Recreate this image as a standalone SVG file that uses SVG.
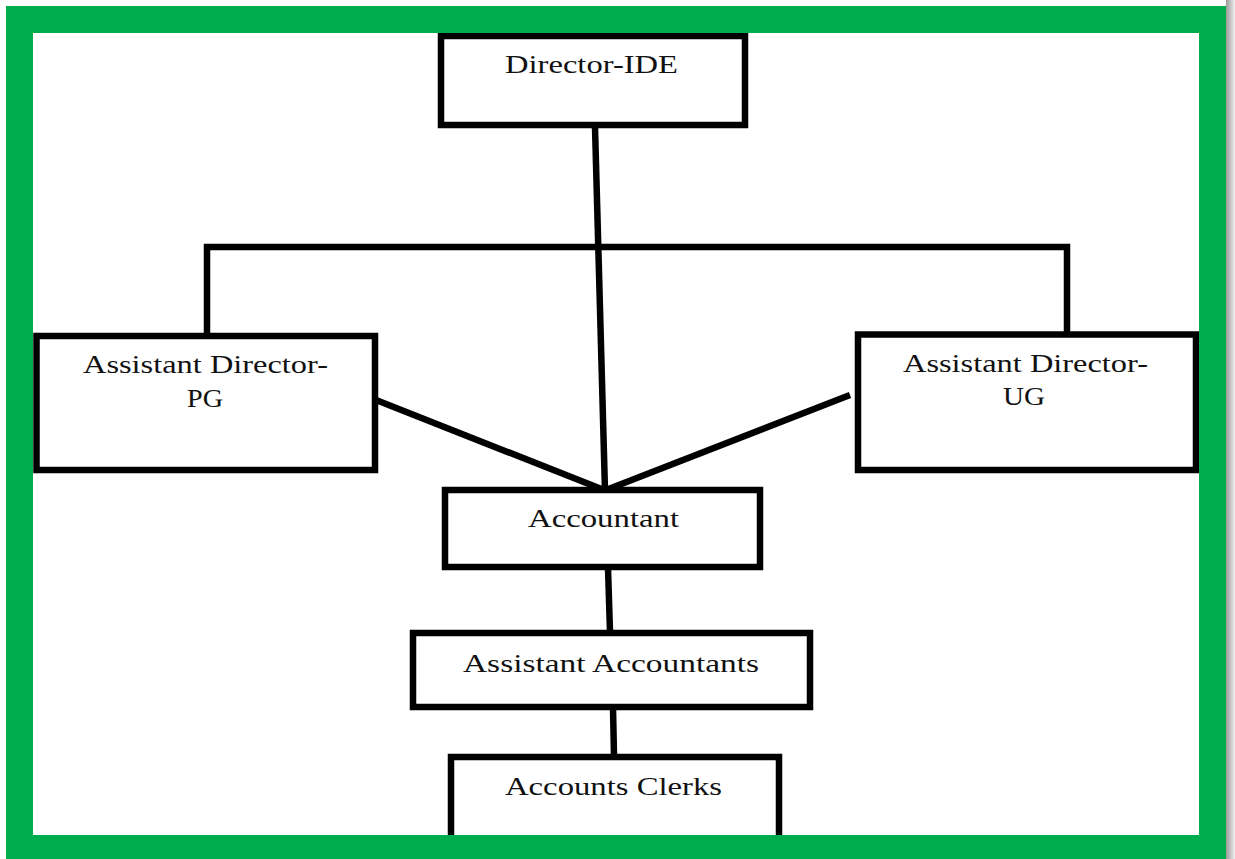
<svg xmlns="http://www.w3.org/2000/svg" width="1235" height="859" viewBox="0 0 1235 859">
  <defs>
    <linearGradient id="shade" x1="0" y1="0" x2="1" y2="0">
      <stop offset="0" stop-color="#9a9a9a"/>
      <stop offset="1" stop-color="#f0f0f0"/>
    </linearGradient>
  </defs>
  <style>
    .box { fill: #ffffff; stroke: #000000; stroke-width: 6.5; }
    .wire { fill: none; stroke: #000000; stroke-width: 6.5; stroke-linecap: butt; stroke-linejoin: miter; }
    .label { font-family: "Liberation Serif", "Times New Roman", serif; font-size: 25px; fill: #111111; }
  </style>

  <!-- page background -->
  <rect x="0" y="0" width="1235" height="859" fill="#ffffff"/>

  <!-- connectors -->
  <g id="connectors">
    <line class="wire" x1="595" y1="127" x2="605" y2="491"/>
    <polyline class="wire" points="207,334 207,247 1067,247 1067,332"/>
    <line class="wire" x1="376" y1="400" x2="604" y2="490"/>
    <line class="wire" x1="850" y1="395" x2="606" y2="490"/>
    <line class="wire" x1="608" y1="568" x2="610" y2="632"/>
    <line class="wire" x1="613" y1="708" x2="614" y2="756"/>
  </g>

  <g id="director-ide">
    <rect class="box" x="441" y="36" width="304" height="89"/>
    <text class="label" x="505" y="73" textLength="173" lengthAdjust="spacingAndGlyphs">Director-IDE</text>
  </g>

  <g id="assistant-director-pg">
    <rect class="box" x="36.5" y="336" width="338.5" height="134"/>
    <text class="label" x="83" y="373" textLength="245" lengthAdjust="spacingAndGlyphs">Assistant Director-</text>
    <text class="label" x="187" y="407" textLength="36" lengthAdjust="spacingAndGlyphs">PG</text>
  </g>

  <g id="assistant-director-ug">
    <rect class="box" x="858" y="334.5" width="338" height="135.5"/>
    <text class="label" x="903" y="372" textLength="245" lengthAdjust="spacingAndGlyphs">Assistant Director-</text>
    <text class="label" x="1003" y="405" textLength="42" lengthAdjust="spacingAndGlyphs">UG</text>
  </g>

  <g id="accountant">
    <rect class="box" x="445" y="490" width="315" height="77"/>
    <text class="label" x="528" y="527" textLength="151" lengthAdjust="spacingAndGlyphs">Accountant</text>
  </g>

  <g id="assistant-accountants">
    <rect class="box" x="413" y="633" width="397" height="74"/>
    <text class="label" x="463" y="672" textLength="296" lengthAdjust="spacingAndGlyphs">Assistant Accountants</text>
  </g>

  <g id="accounts-clerks">
    <rect class="box" x="451" y="757" width="328" height="90"/>
    <text class="label" x="505" y="795" textLength="217" lengthAdjust="spacingAndGlyphs">Accounts Clerks</text>
  </g>

  <!-- green frame drawn on top, with a soft shadow on its right edge -->
  <g id="frame">
    <rect x="1226" y="0" width="9" height="859" fill="url(#shade)"/>
    <path fill="#00ad4e" fill-rule="evenodd" d="M6 6 H1226 V859 H6 Z M33 33 V835 H1199 V33 Z"/>
  </g>
</svg>
